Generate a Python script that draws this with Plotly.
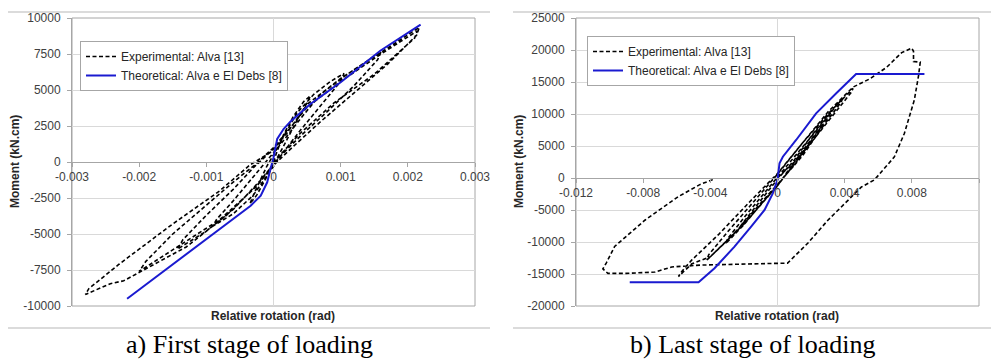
import plotly.graph_objects as go

# ---------------- (a) First stage of loading ----------------
exp1_x = [0.0, 0.00005, 0.00015, 0.0003, 0.00045, 0.00055, 0.0005, 0.00035, 0.00015, 0.00002,
          -0.0001, -0.00025, -0.00035, -0.0003, -0.0002, -0.0001, 0.0, 0.00015,
          0.00035, 0.0006, 0.00085, 0.00105, 0.001, 0.0007, 0.0004, 0.00015, 0.0,
          -0.0003, -0.0006, -0.0009, -0.00085, -0.0006, -0.00035, -0.0001, 0.0001,
          0.0004, 0.0007, 0.0011, 0.0016, 0.00155, 0.0012, 0.0008, 0.0004, 0.0001,
          -0.0002, -0.0006, -0.001, -0.00143, -0.00135, -0.001, -0.0006, -0.0003, 0.0, 0.0002,
          0.0005, 0.001, 0.0016, 0.00217, 0.00213, 0.0017, 0.0012, 0.0007, 0.0003, 0.00005,
          -0.0003, -0.0008, -0.0014, -0.002, -0.0019, -0.0015, -0.001, -0.0006, -0.00025, 0.0, 0.0002,
          0.0005, 0.001, 0.0016, 0.00214, 0.0021, 0.0015, 0.0009, 0.0004, 0.0001,
          -0.0002, -0.0007, -0.0013, -0.002, -0.00223, -0.00243, -0.0028, -0.00275, -0.0023,
          -0.0015, -0.0008, -0.00035, 0.0]
exp1_y = [0, 700, 1900, 3200, 4200, 4600, 4100, 2900, 1100, 0,
          -1100, -2300, -2900, -2300, -1300, -300, 500, 1800,
          3400, 4700, 5600, 6150, 5600, 3900, 2200, 700, -300,
          -2300, -3600, -4450, -4000, -2700, -1300, 100, 1200,
          3000, 4700, 6100, 7650, 7100, 5300, 3500, 1800, 400,
          -1300, -3300, -4800, -6050, -5400, -3700, -1900, -400, 900, 2000,
          4000, 5800, 7600, 9350, 8800, 6800, 4800, 2800, 1100, 0,
          -1900, -4000, -5800, -7600, -6900, -5000, -3000, -1400, -100, 1000, 2100,
          3800, 5600, 7500, 9100, 8600, 6100, 4100, 2000, 500,
          -1400, -3700, -5900, -7650, -8250, -8450, -9200, -8800, -7100,
          -4300, -2000, -200, 800]

th1_x = [-0.00218, -0.00034, -0.00019, -0.000094, -0.000045, 0.0, 0.000055, 0.00015,
         0.00025, 0.00055, 0.001, 0.00159, 0.00219]
th1_y = [-9500, -3035, -2340, -1410, -486, 300, 1600, 2290, 2800, 4030, 5535, 7730, 9535]

# ---------------- (b) Last stage of loading ----------------
exp2_x = [0.0, 0.001, 0.002, 0.0026, 0.0025, 0.0015, 0.0005, -0.0005, -0.0015, -0.0022,
          -0.002, -0.001, 0.0, 0.001, 0.002, 0.0032, 0.0031, 0.002, 0.001, 0.0,
          -0.001, -0.002, -0.0031, -0.003, -0.002, -0.001, 0.0, 0.001, 0.0025, 0.0039,
          0.0038, 0.0025, 0.001, 0.0, -0.0015, -0.003, -0.0042, -0.0041, -0.003, -0.0015,
          0.0, 0.0015, 0.003, 0.0045, 0.0044, 0.003, 0.0015, 0.0, -0.002, -0.004,
          -0.0051, -0.0059, -0.0057, -0.0051, -0.0035, -0.0015, 0.0, 0.0015, 0.003, 0.0045,
          0.0055, 0.0065, 0.0074, 0.008, 0.0081, 0.0081, 0.0085, 0.0084, 0.00815, 0.00756,
          0.00696, 0.00577, 0.005, 0.003, 0.0018, 0.0006, -0.002, -0.0045, -0.0063, -0.0073,
          -0.009, -0.0101, -0.0104, -0.0102, -0.0097, -0.0079, -0.0059, -0.0046, -0.0038]
exp2_y = [0, 2500, 6000, 8000, 7300, 3500, 500, -2500, -5500, -7500,
          -6800, -3500, -200, 2800, 6500, 10500, 9800, 5800, 2000, -1000,
          -4200, -7300, -10300, -9600, -6200, -3000, 200, 3300, 8000, 12600,
          11900, 7300, 2500, -1200, -5600, -9800, -12800, -12000, -8500, -4000,
          600, 5500, 10000, 14000, 13400, 8800, 3900, -1200, -7200, -12300,
          -13400, -15400, -14600, -12800, -8800, -3300, 700, 5500, 10300, 14200,
          15500, 17300, 19600, 20300, 19800, 18200, 18100, 16000, 12200, 7000,
          3300, -300, -1400, -6600, -10200, -13300, -13400, -13600, -13900, -14700,
          -14900, -14900, -14200, -13300, -10700, -6600, -2900, -1000, -200]

th2_x = [-0.0088, -0.0047, -0.00375, -0.00256, -0.00157, -0.00077, -0.00028, 0.0,
         0.00012, 0.00032, 0.00111, 0.0023, 0.0035, 0.00468, 0.00875]
th2_y = [-16300, -16300, -14100, -10730, -7600, -5000, -2400, -300,
         2300, 3330, 5940, 10100, 13230, 16250, 16250]

# ---------------- ticks ----------------
x1_tickvals = [-0.003, -0.002, -0.001, 0, 0.001, 0.002, 0.003]
x1_ticktext = ["-0.003", "-0.002", "-0.001", "0", "0.001", "0.002", "0.003"]
y1_tickvals = [-10000, -7500, -5000, -2500, 0, 2500, 5000, 7500, 10000]
y1_ticktext = ["-10000", "-7500", "-5000", "-2500", "0", "2500", "5000", "7500", "10000"]
x2_tickvals = [-0.012, -0.008, -0.004, 0, 0.004, 0.008, 0.012]
x2_ticktext = ["-0.012", "-0.008", "-0.004", "0", "0.004", "0.008", "0.012"]
y2_tickvals = [-20000, -15000, -10000, -5000, 0, 5000, 10000, 15000, 20000, 25000]
y2_ticktext = ["-20000", "-15000", "-10000", "-5000", "0", "5000", "10000", "15000", "20000", "25000"]

W, H = 991, 359
FONT = "Arial, Liberation Sans, sans-serif"
GRID = "#d9d9d9"
FRAME = "#a6a6a6"
TICKC = "#404040"
BLUE = "#1a1ad0"
DASH = dict(color="black", width=1.6, dash="4px,2.5px")

fig = go.Figure()
fig.add_trace(go.Scatter(x=exp1_x, y=exp1_y, mode="lines", name="Experimental: Alva [13]",
                         line=DASH, xaxis="x", yaxis="y", legend="legend"))
fig.add_trace(go.Scatter(x=th1_x, y=th1_y, mode="lines", name="Theoretical: Alva e El Debs [8]",
                         line=dict(color=BLUE, width=2),
                         xaxis="x", yaxis="y", legend="legend"))
fig.add_trace(go.Scatter(x=exp2_x, y=exp2_y, mode="lines", name="Experimental: Alva [13]",
                         line=DASH, xaxis="x2", yaxis="y2", legend="legend2"))
fig.add_trace(go.Scatter(x=th2_x, y=th2_y, mode="lines", name="Theoretical: Alva e El Debs [8]",
                         line=dict(color=BLUE, width=2),
                         xaxis="x2", yaxis="y2", legend="legend2"))

yd = [1 - 306 / H, 1 - 18 / H]
pos1 = yd[0] + (0 - (-10000)) / 20000 * (yd[1] - yd[0])
pos2 = yd[0] + (0 - (-20000)) / 45000 * (yd[1] - yd[0])

def xax(domain, rng, tv, tt, pos):
    return dict(domain=domain, range=rng, anchor="free", position=pos, automargin=False,
                tickmode="array", tickvals=tv, ticktext=tt,
                showgrid=False, zeroline=True, zerolinecolor=GRID, zerolinewidth=1,
                showline=True, linecolor=FRAME, linewidth=1,
                ticks="outside", ticklen=4, tickcolor=FRAME,
                tickfont=dict(family=FONT, size=12, color=TICKC))

def yax(anchor, rng, tv, tt):
    return dict(domain=yd, range=rng, anchor=anchor, automargin=False,
                tickmode="array", tickvals=tv, ticktext=tt,
                showgrid=True, gridcolor=GRID, gridwidth=1, zeroline=False,
                showline=True, linecolor=FRAME, linewidth=1,
                ticks="outside", ticklen=4, tickcolor=FRAME, ticklabelstandoff=4,
                tickfont=dict(family=FONT, size=12, color=TICKC))

fig.update_layout(
    width=W, height=H, margin=dict(l=0, r=0, t=0, b=0, autoexpand=False),
    paper_bgcolor="white", plot_bgcolor="white",
    xaxis=xax([72 / W, 475 / W], [-0.003, 0.003], x1_tickvals, x1_ticktext, pos1),
    yaxis=yax("x", [-10000, 10000], y1_tickvals, y1_ticktext),
    xaxis2=xax([576 / W, 979 / W], [-0.012, 0.012], x2_tickvals, x2_ticktext, pos2),
    yaxis2=yax("x2", [-20000, 25000], y2_tickvals, y2_ticktext),
    legend=dict(x=80 / W, y=1 - 41 / H, xanchor="left", yanchor="top",
                bgcolor="white", bordercolor=FRAME, borderwidth=1,
                font=dict(family=FONT, size=12, color="#262626"), tracegroupgap=0),
    legend2=dict(x=587 / W, y=1 - 36 / H, xanchor="left", yanchor="top",
                 bgcolor="white", bordercolor=FRAME, borderwidth=1,
                 font=dict(family=FONT, size=12, color="#262626"), tracegroupgap=0),
    showlegend=True,
)

shapes = []
for xr, yr in (("x domain", "y domain"), ("x2 domain", "y2 domain")):
    shapes.append(dict(type="rect", xref=xr, yref=yr, x0=0, x1=1, y0=0, y1=1,
                       line=dict(color=FRAME, width=1), layer="below"))
for x0, x1 in ((8 / W, 490 / W), (513 / W, 1.0)):
    for yy in (1 - 12 / H, 1 - 328 / H):
        shapes.append(dict(type="line", xref="paper", yref="paper", x0=x0, x1=x1, y0=yy, y1=yy,
                           line=dict(color="#cfcfcf", width=1.5)))
fig.update_layout(shapes=shapes)

SERIF = "Liberation Serif, Times New Roman, serif"
ann = []
for txt, xc in (("a) First stage of loading", 249), ("b) Last stage of loading", 753)):
    ann.append(dict(text=txt, x=xc / W, y=1 - 344 / H, xref="paper", yref="paper",
                    xanchor="center", yanchor="middle", showarrow=False,
                    font=dict(family=SERIF, size=26, color="black")))
for xc in (273, 777):
    ann.append(dict(text="<b>Relative rotation (rad)</b>", x=xc / W, y=1 - 316 / H, xref="paper", yref="paper",
                    xanchor="center", yanchor="middle", showarrow=False,
                    font=dict(family=FONT, size=12, color="#262626")))
for xc in (15, 519):
    ann.append(dict(text="<b>Moment (kN.cm)</b>", x=xc / W, y=1 - 162 / H, xref="paper", yref="paper",
                    xanchor="center", yanchor="middle", showarrow=False, textangle=-90,
                    font=dict(family=FONT, size=12, color="#262626")))
fig.update_layout(annotations=ann)

fig.write_html("out.html")
